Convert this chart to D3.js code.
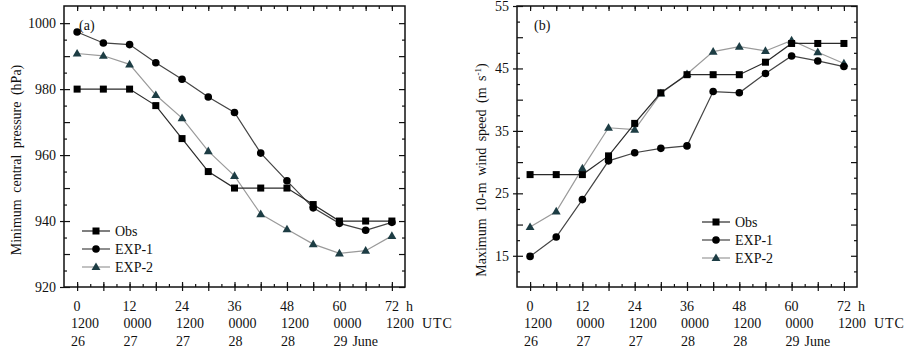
<!DOCTYPE html>
<meta charset="utf-8">
<style>
  body { margin: 0; background: #fff; }
  text { font-family: "Liberation Serif", "DejaVu Serif", serif; fill: #111; }
  .domain { display: none; }
</style>
<body>
<script src="https://d3js.org/d3.v7.min.js"></script>
<script>
var width = 907, height = 350;

// forecast hour of each point
var hours = [0, 6, 12, 18, 24, 30, 36, 42, 48, 54, 60, 66, 72];

// x tick labels (three rows)
var hourTicks = [0, 12, 24, 36, 48, 60, 72];
var utcLabels = ["1200", "0000", "1200", "0000", "1200", "0000", "1200"];
var dayLabels = ["26", "27", "27", "28", "28", "29", ""];

// (a) minimum central pressure, hPa
var presObs  = [980, 980, 980, 975, 965, 955, 950, 950, 950, 945, 940, 940, 940];
var presExp1 = [997.3, 994, 993.5, 988, 983, 977.6, 972.9, 960.6, 952.2, 944, 939.3, 937.2, 939.6];
var presExp2 = [990.8, 990.1, 987.5, 978.2, 971.2, 961.2, 953.7, 942.1, 937.5, 933, 930.2, 931, 935.5];

// (b) maximum 10-m wind speed, m/s
var windObs  = [28, 28, 28, 31, 36.2, 41.1, 44, 44, 44, 46, 49, 49, 49];
var windExp1 = [14.9, 18, 24, 30.2, 31.5, 32.2, 32.6, 41.3, 41.1, 44.2, 47, 46.2, 45.3];
var windExp2 = [19.6, 22.1, 29, 35.5, 35.2, 41, 44.1, 47.7, 48.5, 47.8, 49.5, 47.6, 45.8];

var seriesNames = ["Obs", "EXP-1", "EXP-2"];

var svg = d3.select("body").append("svg")
    .attr("width", width)
    .attr("height", height);

var lineColors = {"Obs": "#2a2a2a", "EXP-1": "#444", "EXP-2": "#9a9a9a"};
var markColors = {"Obs": "#000", "EXP-1": "#000", "EXP-2": "#1d3d44"};

function marker(sel, name, cx, cy) {
    if (name == "Obs") {
        sel.append("rect")
            .attr("x", cx - 3.5).attr("y", cy - 3.5)
            .attr("width", 7).attr("height", 7)
            .attr("fill", markColors[name]);
    } else if (name == "EXP-1") {
        sel.append("circle")
            .attr("cx", cx).attr("cy", cy).attr("r", 3.8)
            .attr("fill", markColors[name]);
    } else {
        sel.append("path")
            .attr("d", d3.symbol(d3.symbolTriangle, 34)())
            .attr("transform", "translate(" + cx + "," + (cy + 0.5) + ")")
            .attr("fill", markColors[name]);
    }
}

function drawPanel(p) {
    var g = svg.append("g");

    var x = d3.scaleLinear().domain([-3, 75]).range([p.left, p.right]);
    var y = d3.scaleLinear().domain(p.yDomain).range([p.bottom, p.top]);

    var allX = d3.range(0, 73, 3);

    // left axis: labels + outward major ticks
    g.append("g")
        .attr("transform", "translate(" + p.left + ",0)")
        .call(d3.axisLeft(y).tickValues(p.yLabels).tickSize(4).tickPadding(4).tickFormat(d3.format("d")))
        .call(s => s.selectAll("text").style("font-size", "14px"));
    // inner ticks on left and right
    [p.left, p.right].forEach(function(xp, k) {
        var ax = k == 0 ? d3.axisRight(y) : d3.axisLeft(y);
        g.append("g")
            .attr("transform", "translate(" + xp + ",0)")
            .call(ax.tickValues(p.yMinor).tickSize(3).tickFormat(""));
        g.append("g")
            .attr("transform", "translate(" + xp + ",0)")
            .call((k == 0 ? d3.axisRight(y) : d3.axisLeft(y)).tickValues(p.yMajor).tickSize(6).tickFormat(""));
    });

    // bottom axis ticks (outward at 6 h) and inner ticks top and bottom
    g.append("g")
        .attr("transform", "translate(0," + p.bottom + ")")
        .call(d3.axisBottom(x).tickValues(hours).tickSize(4).tickFormat(""));
    [p.bottom, p.top].forEach(function(yp, k) {
        var ax = k == 0 ? d3.axisTop(x) : d3.axisBottom(x);
        g.append("g")
            .attr("transform", "translate(0," + yp + ")")
            .call(ax.tickValues(allX).tickSize(3).tickFormat(""));
        g.append("g")
            .attr("transform", "translate(0," + yp + ")")
            .call((k == 0 ? d3.axisTop(x) : d3.axisBottom(x)).tickValues(hours).tickSize(5).tickFormat(""));
    });
    g.selectAll(".tick line").attr("stroke", "#111").attr("stroke-width", 1.2);

    // frame
    g.append("rect")
        .attr("x", p.left).attr("y", p.top)
        .attr("width", p.right - p.left).attr("height", p.bottom - p.top)
        .attr("fill", "none").attr("stroke", "#111").attr("stroke-width", 1.5);

    // x labels, three rows
    var lab = g.append("g").style("font-size", "14px");
    hourTicks.forEach(function(h, i) {
        lab.append("text").attr("x", x(h)).attr("y", 311).attr("text-anchor", "middle").text(h);
        lab.append("text").attr("x", x(h) - 6).attr("y", 328).text(utcLabels[i]);
        lab.append("text").attr("x", x(h) - 6).attr("y", 346).text(dayLabels[i]);
    });
    lab.append("text").attr("x", x(72) + 14).attr("y", 311).text("h");
    lab.append("text").attr("x", x(72) + 30).attr("y", 328).attr("letter-spacing", "1px").text("UTC");
    lab.append("text").attr("x", x(60) + 13).attr("y", 346).text("June");

    // y title
    var yt = g.append("text")
        .attr("transform", "translate(" + p.titleX + "," + p.titleY + ") rotate(-90)")
        .attr("text-anchor", "middle")
        .attr("word-spacing", "3px")
        .style("font-size", "14px");
    yt.append("tspan").text(p.title);
    if (p.sup) {
        yt.append("tspan").text(" (m s");
        yt.append("tspan").attr("dy", -5).style("font-size", "9px").text("-1");
        yt.append("tspan").attr("dy", 5).text(")");
    }

    // panel tag
    g.append("text").attr("x", p.tagX).attr("y", 30).style("font-size", "14px").text(p.tag);

    // series
    var line = d3.line().x(function(d, i) { return x(hours[i]); }).y(function(d) { return y(d); });
    [2, 1, 0].forEach(function(k) {
        var name = seriesNames[k], vals = p.series[k];
        g.append("path")
            .attr("d", line(vals))
            .attr("fill", "none")
            .attr("stroke", lineColors[name])
            .attr("stroke-width", 1.2);
        var mg = g.append("g");
        vals.forEach(function(v, i) { marker(mg, name, x(hours[i]), y(v)); });
    });

    // legend
    var lg = g.append("g").style("font-size", "14px");
    seriesNames.forEach(function(name, k) {
        var ly = p.legY + k * 18;
        lg.append("line")
            .attr("x1", p.legX).attr("x2", p.legX + 28)
            .attr("y1", ly).attr("y2", ly)
            .attr("stroke", lineColors[name]).attr("stroke-width", 1.2);
        marker(lg, name, p.legX + 14, ly);
        lg.append("text").attr("x", p.legX + 33).attr("y", ly + 5).text(name);
    });
}

drawPanel({
    left: 64, right: 405, top: 6, bottom: 287,
    yDomain: [920, 1005.2],
    yLabels: [920, 940, 960, 980, 1000],
    yMajor: d3.range(920, 1001, 10),
    yMinor: d3.range(925, 1001, 10),
    title: "Minimum central pressure (hPa)",
    titleX: 21, titleY: 160,
    tag: "(a)", tagX: 79,
    legX: 82, legY: 231,
    series: [presObs, presExp1, presExp2]
});

drawPanel({
    left: 517, right: 857, top: 6, bottom: 287,
    yDomain: [10, 55],
    yLabels: [15, 25, 35, 45, 55],
    yMajor: d3.range(15, 56, 5),
    yMinor: d3.range(12.5, 55, 5),
    title: "Maximum 10-m wind speed",
    sup: true,
    titleX: 486, titleY: 170,
    tag: "(b)", tagX: 534,
    legX: 702, legY: 222,
    series: [windObs, windExp1, windExp2]
});
</script>
</body>
</html>
